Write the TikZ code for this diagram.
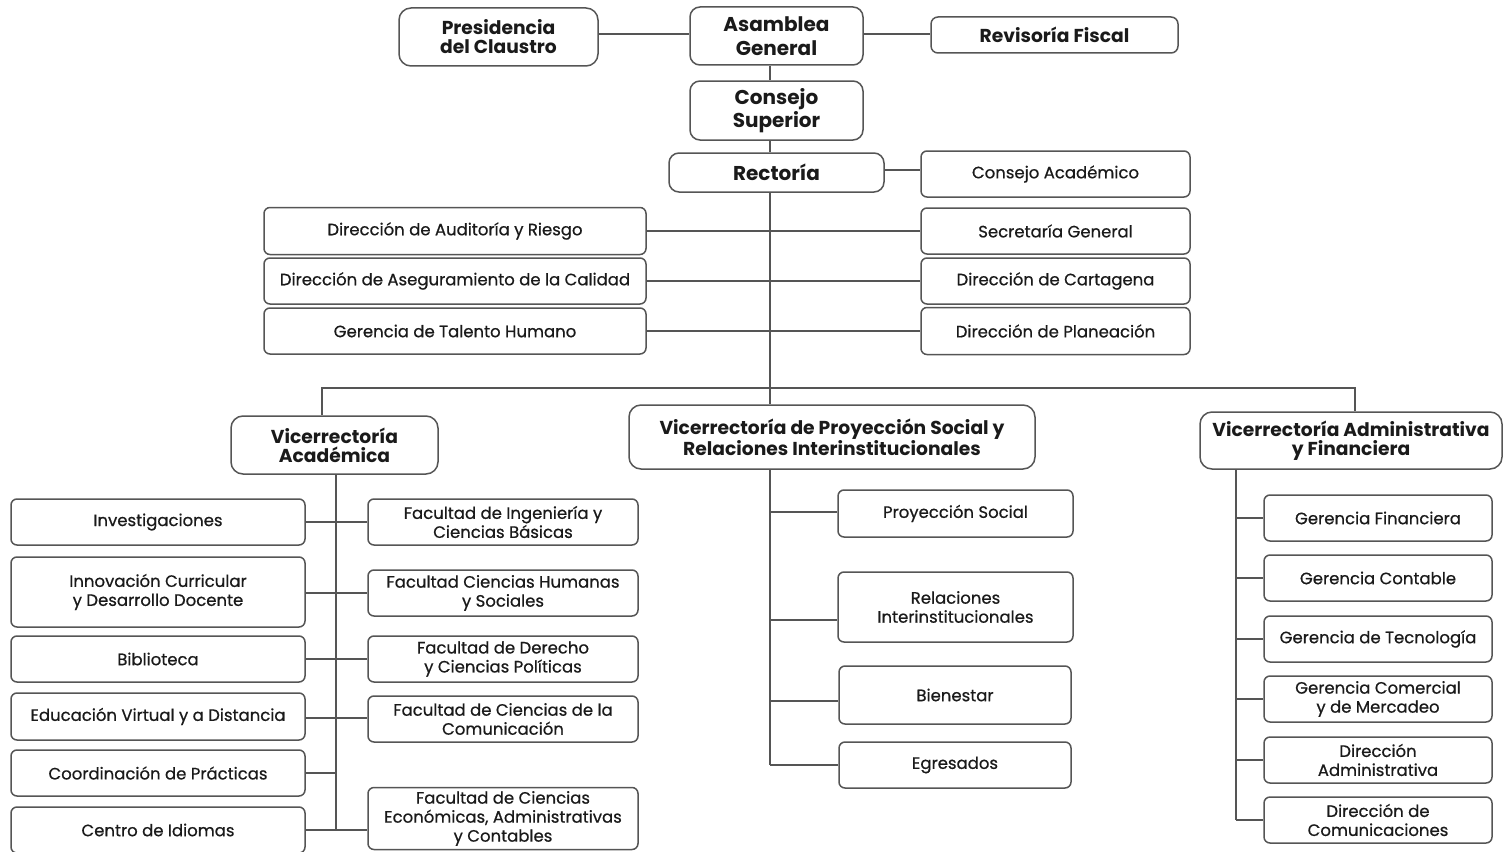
\documentclass[tikz,border=0pt]{standalone}
\usepackage{fontspec}
\setmainfont{Poppins}
\newfontfamily\unitfont{Poppins}[FakeBold=0.6]
\definecolor{edge}{HTML}{555555}
\definecolor{ink}{HTML}{1A1A1A}
\begin{document}
\begin{tikzpicture}[x=1pt,y=-1pt,
  unit/.style={draw=edge, line width=1.5pt, fill=white, rounded corners=6pt,
    align=center, inner sep=0pt, text=ink,
    font=\unitfont\fontsize{16.5}{19}\selectfont},
  head/.style={unit, rounded corners=12pt,
    font=\fontsize{18.7}{19}\selectfont\bfseries},
  chief/.style={unit, rounded corners=10pt,
    font=\fontsize{20}{23.5}\selectfont\bfseries},
  link/.style={draw=edge, line width=1.6pt}]

\useasboundingbox (0,0) rectangle (1509,851);

% --- governing bodies
\node[head, minimum width=199pt, minimum height=58pt] (pres) at (498.5,37) {Presidencia\\del Claustro};
\node[chief, minimum width=173pt, minimum height=58pt] (asam) at (776.5,36) {Asamblea\\General};
\node[head, rounded corners=7pt, minimum width=247pt, minimum height=36pt] (rev) at (1054.5,35) {Revisoría Fiscal};
\node[chief, minimum width=173pt, minimum height=59pt] (cons) at (776.5,110.5) {Consejo\\Superior};
\node[chief, minimum width=215pt, minimum height=39pt] (rect) at (776.5,172.5) {Rectoría};
\node[unit, minimum width=269pt, minimum height=46pt] (cacad) at (1055.5,174) {Consejo Académico};

% --- units reporting to the rector
\node[unit, minimum width=382pt, minimum height=47pt] (aud) at (455,231) {Dirección de Auditoría y Riesgo};
\node[unit, minimum width=382pt, minimum height=46pt] (cal) at (455,281) {Dirección de Aseguramiento de la Calidad};
\node[unit, minimum width=382pt, minimum height=46pt] (tal) at (455,331) {Gerencia de Talento Humano};
\node[unit, minimum width=269pt, minimum height=46pt] (sec) at (1055.5,231) {Secretaría General};
\node[unit, minimum width=269pt, minimum height=46pt] (cart) at (1055.5,281) {Dirección de Cartagena};
\node[unit, minimum width=269pt, minimum height=47pt] (plan) at (1055.5,331) {Dirección de Planeación};

% --- vice-rectorates
\node[head, minimum width=207pt, minimum height=58pt] (vac) at (334.5,445) {Vicerrectoría\\Académica};
\node[head, minimum width=406pt, minimum height=64pt] (vps) at (832,437) {Vicerrectoría de Proyección Social y\\Relaciones Interinstitucionales};
\node[head, minimum width=302pt, minimum height=57pt] (vaf) at (1351,440.5) {Vicerrectoría Administrativa\\y Financiera};

% --- academic units
\node[unit, minimum width=294pt, minimum height=46pt] (inv) at (158,522) {Investigaciones};
\node[unit, minimum width=294pt, minimum height=70pt] (inn) at (158,592) {Innovación Curricular\\y Desarrollo Docente};
\node[unit, minimum width=294pt, minimum height=46pt] (bib) at (158,659) {Biblioteca};
\node[unit, minimum width=294pt, minimum height=47pt] (edu) at (158,716.5) {Educación Virtual y a Distancia};
\node[unit, minimum width=294pt, minimum height=46pt] (prac) at (158,773) {Coordinación de Prácticas};
\node[unit, minimum width=294pt, minimum height=46pt] (idi) at (158,830) {Centro de Idiomas};

\node[unit, minimum width=270pt, minimum height=46pt] (fing) at (503,522) {Facultad de Ingeniería y\\Ciencias Básicas};
\node[unit, minimum width=270pt, minimum height=46pt] (fhum) at (503,593) {Facultad Ciencias Humanas\\y Sociales};
\node[unit, minimum width=270pt, minimum height=46pt] (fder) at (503,659) {Facultad de Derecho\\y Ciencias Políticas};
\node[unit, minimum width=270pt, minimum height=46pt] (fcom) at (503,719) {Facultad de Ciencias de la\\Comunicación};
\node[unit, minimum width=270pt, minimum height=62pt] (feco) at (503,818.5) {Facultad de Ciencias\\Económicas, Administrativas\\y Contables};

% --- social projection units
\node[unit, minimum width=235pt, minimum height=47pt] (proy) at (955.5,513.5) {Proyección Social};
\node[unit, minimum width=235pt, minimum height=70pt] (rel) at (955.5,607) {Relaciones\\Interinstitucionales};
\node[unit, minimum width=232pt, minimum height=58pt] (bien) at (955,695) {Bienestar};
\node[unit, minimum width=232pt, minimum height=46pt] (egr) at (955,765) {Egresados};

% --- administrative and financial units
\node[unit, minimum width=228pt, minimum height=46pt] (gfin) at (1378,518) {Gerencia Financiera};
\node[unit, minimum width=228pt, minimum height=46pt] (gcon) at (1378,578) {Gerencia Contable};
\node[unit, minimum width=228pt, minimum height=46pt] (gtec) at (1378,639) {Gerencia de Tecnología};
\node[unit, minimum width=228pt, minimum height=46pt] (gcom) at (1378,699) {Gerencia Comercial\\y de Mercadeo};
\node[unit, minimum width=228pt, minimum height=46pt] (dadm) at (1378,760) {Dirección\\Administrativa};
\node[unit, minimum width=228pt, minimum height=46pt] (dcom) at (1378,820) {Dirección de\\Comunicaciones};

% --- spine positions
\coordinate (sp) at (770,0);
\coordinate (barL) at (322,388);
\coordinate (barR) at (1355,388);
\coordinate (ax) at (336,0);
\coordinate (fx) at (1236,0);

% --- top connectors
\draw[link] (pres.east |- 0,34) -- (asam.west |- 0,34);
\draw[link] (asam.east |- 0,34) -- (rev.west |- 0,34);
\draw[link] (asam.south -| sp) -- (cons.north -| sp);
\draw[link] (cons.south -| sp) -- (rect.north -| sp);
\draw[link] (rect.south -| sp) -- (vps.north -| sp);
\draw[link] (rect.east |- 0,170) -- (cacad.west |- 0,170);
\draw[link] (aud.east) -- (sec.west);
\draw[link] (cal.east) -- (cart.west);
\draw[link] (tal.east) -- (plan.west);
\draw[link] (vac.north -| barL) -- (barL) -- (barR) -- (vaf.north -| barR);

% --- academic branch
\draw[link] (vac.south -| ax) -- (ax |- idi.east);
\draw[link] (inv.east) -- (fing.west |- inv.east);
\draw[link] (inn.east |- fhum.west) -- (fhum.west);
\draw[link] (bib.east) -- (fder.west |- bib.east);
\draw[link] (edu.east |- 0,718) -- (fcom.west |- 0,718);
\draw[link] (prac.east) -- (ax |- prac.east);
\draw[link] (idi.east) -- (feco.west |- idi.east);

% --- social projection branch
\draw[link] (vps.south -| sp) -- (sp |- egr.west);
\draw[link] (sp |- 0,512) -- (proy.west |- 0,512);
\draw[link] ([yshift=-13pt]rel.west -| sp) -- ([yshift=-13pt]rel.west);
\draw[link] ([yshift=-6pt]bien.west -| sp) -- ([yshift=-6pt]bien.west);
\draw[link] (sp |- egr.west) -- (egr.west);

% --- administrative branch
\draw[link] (vaf.south -| fx) -- (fx |- dcom.west);
\foreach \n in {gfin,gcon,gtec,gcom,dadm,dcom}
  \draw[link] (fx |- \n.west) -- (\n.west);
\end{tikzpicture}
\end{document}
